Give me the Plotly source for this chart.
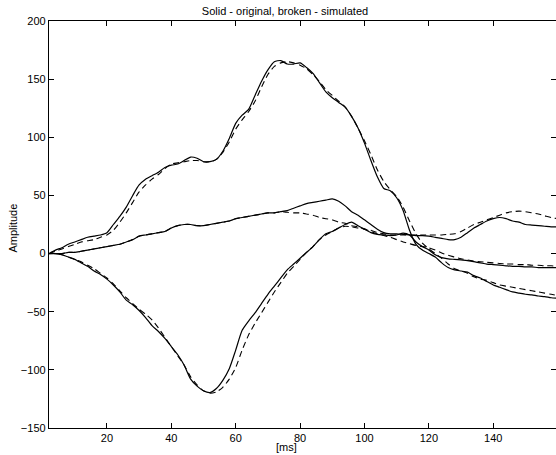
import plotly.graph_objects as go

# time axis [ms]
t = list(range(2, 162, 2))

# curve 1 (large positive deflection)
a_orig = [0, 3, 5, 8, 10, 12, 14, 15, 16, 18, 25, 32, 40, 50, 59, 64, 67, 70, 74, 76,
          77, 80, 83, 82, 79, 79, 81, 88, 99, 112, 119, 124, 136, 148, 158, 165, 166, 163, 163, 164,
          160, 155, 147, 139, 134, 130, 126, 118, 108, 95, 80, 66, 56, 54, 48, 37, 20, 8, 3, 0,
          -3, -8, -12, -14, -15, -16, -19, -21, -24, -27, -29, -31, -33, -34, -35, -35.5, -36.5, -37, -38, -38.5]
a_sim = [0, 2, 4, 6, 8, 10, 11, 12, 14, 16, 20, 27, 35, 44, 53, 59, 64, 68, 73, 77,
         78, 79, 80, 80, 79, 79, 81, 87, 96, 107, 115, 122, 131, 143, 154, 161, 164, 165, 164, 162,
         159, 154, 148, 141, 136, 131, 126, 118, 108, 97, 85, 72, 62, 55, 49, 40, 28, 17, 9, 4,
         0, -4, -9, -13, -15, -17, -20, -22, -23, -25, -27, -28, -29, -30, -31, -32, -33, -34, -35, -36]

# curve 2 (small positive deflection)
b_orig = [0, 0, 0, 1, 1, 2, 3, 4, 5, 6, 7, 8, 10, 12, 15, 16, 17, 18, 19, 22,
          24, 25, 25, 24, 24, 25, 26, 27, 28, 30, 31, 32, 33, 34, 35, 35, 36, 37, 39, 41,
          43, 44, 45, 46, 47, 45, 41, 36, 33, 29, 25, 21, 18, 17, 17, 16.5, 16, 15.5, 15.5, 15,
          14, 13, 12, 12, 14, 18, 22, 25, 28, 30, 31, 30, 28, 27, 25, 24.5, 24, 23.5, 23, 23]
b_sim = [0, 0, 0, 1, 1, 2, 3, 4, 5, 6, 7, 8, 10, 12, 15, 16, 17, 18, 19, 22,
         24, 25, 25, 24, 24, 25, 26, 27, 28, 30, 31, 32, 33, 34, 35, 35, 36, 35.5, 35, 35,
         34, 33, 31, 30, 29, 27, 26, 24, 23, 21, 20, 18, 17, 16, 16, 16, 16, 16, 16, 16,
         16, 16, 16.5, 17, 19, 22, 25, 27, 29, 31, 33, 35, 36, 36.5, 36, 35, 34, 32.5, 31, 30]

# curve 3 (negative deflection)
c_orig = [0, 0, -1, -3, -5, -8, -11, -15, -18, -22, -27, -33, -40, -44, -49, -55, -62, -67, -73, -80,
          -87, -96, -108, -114, -118, -119.5, -116, -109, -99, -83, -66, -58, -51, -43, -35, -28, -21, -14, -9, -4,
          1, 6, 12, 17, 19, 22, 25, 27, 24, 21, 18, 16.5, 16, 15.5, 16, 17.5, 16, 10, 6, 3,
          -1, -3.5, -4.5, -5, -5.5, -6, -7, -8, -9, -9.5, -10, -10.5, -11, -11, -11.5, -11.5, -12, -12, -12, -12]
c_sim = [0, 0, -1, -3, -5, -7, -10, -13, -17, -21, -26, -32, -38, -43, -48, -52, -57, -64, -72, -80,
         -88, -96, -106, -113, -118, -120, -119, -115, -108, -98, -83, -70, -60, -51, -42, -33, -25, -17, -11, -5,
         1, 6, 12, 16, 19, 22, 23.5, 23, 22, 21, 19, 17, 15.5, 14, 12, 10, 8.5, 7, 6, 5,
         3, 0.5, -1.5, -3, -4.5, -5.5, -6.5, -7, -7.5, -8, -8.5, -9, -9, -9.5, -9.5, -10, -10, -10.5, -10.5, -11]

x_ticks = [20, 40, 60, 80, 100, 120, 140]
y_ticks = [-150, -100, -50, 0, 50, 100, 150, 200]

FONT = dict(family="Liberation Sans", size=11, color="black")

fig = go.Figure()
for orig, sim in [(a_orig, a_sim), (b_orig, b_sim), (c_orig, c_sim)]:
    fig.add_trace(go.Scatter(x=t, y=orig, mode="lines",
                             line=dict(color="black", width=1.2, shape="spline", smoothing=0.6),
                             showlegend=False, hoverinfo="skip"))
    fig.add_trace(go.Scatter(x=t, y=sim, mode="lines",
                             line=dict(color="black", width=1.1, dash="6px,4px", shape="spline", smoothing=0.6),
                             showlegend=False, hoverinfo="skip"))

axis_common = dict(showgrid=False, zeroline=False, showline=True, linecolor="black", linewidth=1.3,
                   mirror="ticks", ticks="inside", ticklen=5, tickcolor="black", tickwidth=1,
                   tickfont=FONT)

W, H = 556, 455
ML, MT, MB, MR = 49, 21, 27, 0
PW, PH = W - ML - MR, H - MT - MB

fig.update_layout(
    width=W, height=H,
    margin=dict(l=ML, r=MR, t=MT, b=MB),
    paper_bgcolor="white", plot_bgcolor="white",
    xaxis=dict(range=[2, 159.5], tickvals=x_ticks, **axis_common),
    yaxis=dict(range=[-150, 200], tickvals=y_ticks, **axis_common),
    title=dict(text="Solid - original, broken - simulated", x=285 / W, xanchor="center",
               y=1 - 11.5 / H, yanchor="middle", xref="container", yref="container",
               pad=dict(t=0, b=0), font=FONT),
    annotations=[
        dict(text="[ms]", xref="paper", yref="paper", x=(286 - ML) / PW, y=-(447 - 428) / PH,
             yanchor="middle", xanchor="center", showarrow=False, font=FONT),
        dict(text="Amplitude", xref="paper", yref="paper", x=-36 / PW, y=0.49, xanchor="center",
             yanchor="middle", textangle=-90, showarrow=False, font=FONT),
    ],
)

fig.write_html("out.html", config={"displayModeBar": False},
               post_script="document.body.style.margin='0px';document.body.style.overflow='hidden';")
